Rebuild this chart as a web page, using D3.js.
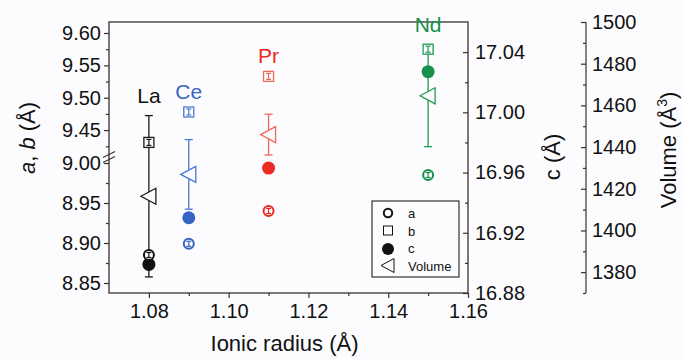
<!DOCTYPE html>
<html>
<head>
<meta charset="utf-8">
<script src="https://cdn.jsdelivr.net/npm/d3@7"></script>
<style>
  body { margin: 0; background: #fcfcfe; }
  svg { display: block; font-family: "Liberation Sans", Arial, sans-serif; }
  .axis path { display: none; }
  .axis line { stroke: #3a3030; stroke-width: 1.2; }
  .axis text { font-size: 20px; fill: #111; font-family: "Liberation Sans", Arial, sans-serif; }
</style>
</head>
<body>
<script>
(function(){
  // values
  const elements = ['La', 'Ce', 'Pr', 'Nd'];
  const radius = [1.08, 1.09, 1.11, 1.15];
  const aVals = [8.885, 8.899, 8.940, 8.985];
  const bVals = [9.431, 9.478, 9.533, 9.575];
  const cVals = [16.899, 16.930, 16.963, 17.027];
  const volVals = [1416.4, 1426.9, 1446.0, 1464.6];
  const volErr = [38.7, 16.7, 9.8, 24.4];
  const colors = ['#111111', '#3764c4', '#ec2a22', '#17914a'];
  const openColors = ['#1a1a1a', '#4a78d2', '#f0685a', '#1e9a52'];

  const xTicks = [1.08, 1.10, 1.12, 1.14, 1.16];
  const abLowTicks = [8.85, 8.90, 8.95, 9.00];
  const abHighTicks = [9.45, 9.50, 9.55, 9.60];
  const cTicks = [16.88, 16.92, 16.96, 17.00, 17.04];
  const volTicks = [1380, 1400, 1420, 1440, 1460, 1480, 1500];

  const W = 683, H = 359;
  const left = 109, right = 468, top = 22, bottom = 293;

  const svg = d3.select('body').append('svg')
    .attr('width', W).attr('height', H);

  const x = d3.scaleLinear().domain([1.07, 1.16]).range([left, right]);
  //broken a,b axis: two linear pieces
  const yLow = d3.scaleLinear().domain([8.8375, 9.0075]).range([bottom, 157]);
  const yHigh = d3.scaleLinear().domain([9.41, 9.617]).range([156, top]);
  const yAB = v => v > 9.2 ? yHigh(v) : yLow(v);
  const yC = d3.scaleLinear().domain([16.88, 17.06]).range([bottom, top]);
  const yV = d3.scaleLinear().domain([1370, 1500]).range([bottom, top]);

  //frame
  svg.append('rect')
    .attr('x', left).attr('y', top)
    .attr('width', right - left).attr('height', bottom - top)
    .attr('fill', 'none').attr('stroke', '#3a3030').attr('stroke-width', 1.3);

  //x axis
  svg.append('g').attr('class', 'axis')
    .attr('transform', `translate(0,${bottom})`)
    .call(d3.axisBottom(x).tickValues(xTicks).tickSize(5).tickPadding(6)
      .tickFormat(d3.format('.2f')));
  svg.append('g').attr('class', 'axis')
    .attr('transform', `translate(0,${bottom})`)
    .call(d3.axisBottom(x).tickValues([1.09, 1.11, 1.13, 1.15]).tickSize(3).tickFormat(''));

  //left broken axis
  [[yLow, abLowTicks, [8.875, 8.925, 8.975]], [yHigh, abHighTicks, [9.425, 9.475, 9.525, 9.575]]]
    .forEach(([sc, ticks, minors]) => {
      svg.append('g').attr('class', 'axis')
        .attr('transform', `translate(${left},0)`)
        .call(d3.axisLeft(sc).tickValues(ticks).tickSize(5).tickPadding(3)
          .tickFormat(d3.format('.2f')));
      svg.append('g').attr('class', 'axis')
        .attr('transform', `translate(${left},0)`)
        .call(d3.axisLeft(sc).tickValues(minors).tickSize(3).tickFormat(''));
    });
  //break marks
  [-2.5, 2.5].forEach(dy => {
    svg.append('line')
      .attr('x1', left - 6).attr('y1', 157 + dy + 3)
      .attr('x2', left + 6).attr('y2', 157 + dy - 3)
      .attr('stroke', '#3a3030').attr('stroke-width', 1.1);
  });

  //c axis (right side, ticks inward)
  const cAxis = svg.append('g').attr('class', 'axis')
    .attr('transform', `translate(${right},0)`)
    .call(d3.axisLeft(yC).tickValues(cTicks).tickSize(5).tickFormat(d3.format('.2f')));
  cAxis.selectAll('text').attr('x', 7).attr('text-anchor', 'start');
  svg.append('g').attr('class', 'axis')
    .attr('transform', `translate(${right},0)`)
    .call(d3.axisLeft(yC).tickValues([16.90, 16.94, 16.98, 17.02]).tickSize(3).tickFormat(''));

  //volume axis
  const vx = 586;
  svg.append('line').attr('x1', vx).attr('x2', vx).attr('y1', top).attr('y2', bottom)
    .attr('stroke', '#3a3030').attr('stroke-width', 1.2);
  const vAxis = svg.append('g').attr('class', 'axis')
    .attr('transform', `translate(${vx},0)`)
    .call(d3.axisLeft(yV).tickValues(volTicks).tickSize(5).tickFormat(d3.format('d')));
  vAxis.selectAll('text').attr('x', 6).attr('text-anchor', 'start');
  svg.append('g').attr('class', 'axis')
    .attr('transform', `translate(${vx},0)`)
    .call(d3.axisLeft(yV).tickValues([1370, 1390, 1410, 1430, 1450, 1470, 1490]).tickSize(3).tickFormat(''));

  //axis titles
  svg.append('text')
    .attr('x', (left + right) / 2 - 4).attr('y', 351)
    .attr('text-anchor', 'middle').attr('font-size', 22).attr('fill', '#111')
    .text('Ionic radius (Å)');

  const abTitle = svg.append('text')
    .attr('transform', 'translate(35,138) rotate(-90)')
    .attr('text-anchor', 'middle').attr('font-size', 22).attr('fill', '#111');
  abTitle.append('tspan').attr('font-style', 'italic').text('a');
  abTitle.append('tspan').text(', ');
  abTitle.append('tspan').attr('font-style', 'italic').text('b');
  abTitle.append('tspan').text(' (Å)');

  svg.append('text')
    .attr('transform', 'translate(560,157) rotate(-90)')
    .attr('text-anchor', 'middle').attr('font-size', 22).attr('fill', '#111')
    .text('c (Å)');

  const vTitle = svg.append('text')
    .attr('transform', 'translate(676,150) rotate(-90)')
    .attr('text-anchor', 'middle').attr('font-size', 22).attr('fill', '#111');
  vTitle.append('tspan').text('Volume (Å');
  vTitle.append('tspan').attr('font-size', 14).attr('dy', -9).text('3');
  vTitle.append('tspan').attr('dy', 9).text(')');

  //data marks
  const pts = elements.map((e, i) => ({
    name: e, r: radius[i], a: aVals[i], b: bVals[i], c: cVals[i],
    v: volVals[i], ve: volErr[i], col: colors[i], open: openColors[i]
  }));

  const g = svg.append('g');
  const bg = '#fcfcfe';

  pts.forEach(d => {
    const cx = x(d.r);
    //volume error bar
    const yT = yV(d.v + d.ve), yB = yV(d.v - d.ve);
    g.append('line').attr('x1', cx).attr('x2', cx).attr('y1', yT).attr('y2', yB)
      .attr('stroke', d.open).attr('stroke-width', 1.3);
    [yT, yB].forEach(yy => g.append('line')
      .attr('x1', cx - 4).attr('x2', cx + 4).attr('y1', yy).attr('y2', yy)
      .attr('stroke', d.open).attr('stroke-width', 1.3));

    //c filled circle
    g.append('circle').attr('cx', cx).attr('cy', yC(d.c)).attr('r', 6.5)
      .attr('fill', d.col);

    //volume triangle
    const vy = yV(d.v);
    g.append('path')
      .attr('d', `M${cx - 8},${vy}L${cx + 7},${vy - 8}L${cx + 7},${vy + 8}Z`)
      .attr('fill', bg).attr('stroke', d.open).attr('stroke-width', 1.3);

    //b square with inner error bar
    const by = yAB(d.b);
    g.append('rect').attr('x', cx - 5).attr('y', by - 5).attr('width', 10).attr('height', 10)
      .attr('fill', bg).attr('stroke', d.open).attr('stroke-width', 1.3);
    innerBar(cx, by, 3, d.open);

    //a circle with inner error bar
    const ay = yAB(d.a);
    g.append('circle').attr('cx', cx).attr('cy', ay).attr('r', 5)
      .attr('fill', bg).attr('stroke', d.col).attr('stroke-width', 2);
    innerBar(cx, ay, 2.5, d.col);

    //element label
    svg.append('text')
      .attr('x', cx).attr('y', Math.min(by, yT) - 13)
      .attr('text-anchor', 'middle').attr('font-size', 21).attr('fill', d.col)
      .text(d.name);
  });

  function innerBar(cx, cy, h, col){
    g.append('line').attr('x1', cx).attr('x2', cx).attr('y1', cy - h).attr('y2', cy + h)
      .attr('stroke', col).attr('stroke-width', 1.2);
    [cy - h, cy + h].forEach(yy => g.append('line')
      .attr('x1', cx - 2.5).attr('x2', cx + 2.5).attr('y1', yy).attr('y2', yy)
      .attr('stroke', col).attr('stroke-width', 1.2));
  }

  //legend
  const lg = svg.append('g');
  lg.append('rect').attr('x', 372).attr('y', 201).attr('width', 87).attr('height', 76)
    .attr('fill', bg).attr('stroke', '#222').attr('stroke-width', 1.1);
  const legendItems = ['a', 'b', 'c', 'Volume'];
  legendItems.forEach((t, i) => {
    const ly = 213 + i * 17.5, lx = 388;
    if (t === 'a') {
      lg.append('circle').attr('cx', lx).attr('cy', ly).attr('r', 4.2)
        .attr('fill', 'none').attr('stroke', '#111').attr('stroke-width', 2);
    } else if (t === 'b') {
      lg.append('rect').attr('x', lx - 4.5).attr('y', ly - 4.5).attr('width', 9).attr('height', 9)
        .attr('fill', 'none').attr('stroke', '#111').attr('stroke-width', 1);
    } else if (t === 'c') {
      lg.append('circle').attr('cx', lx).attr('cy', ly + 1).attr('r', 6).attr('fill', '#111');
    } else {
      lg.append('path')
        .attr('d', `M${lx - 7},${ly}L${lx + 6},${ly - 7}L${lx + 6},${ly + 7}Z`)
        .attr('fill', 'none').attr('stroke', '#111').attr('stroke-width', 1);
    }
    lg.append('text').attr('x', 408).attr('y', ly + 5)
      .attr('font-size', 13).attr('fill', '#111').text(t);
  });
})();
</script>
</body>
</html>
